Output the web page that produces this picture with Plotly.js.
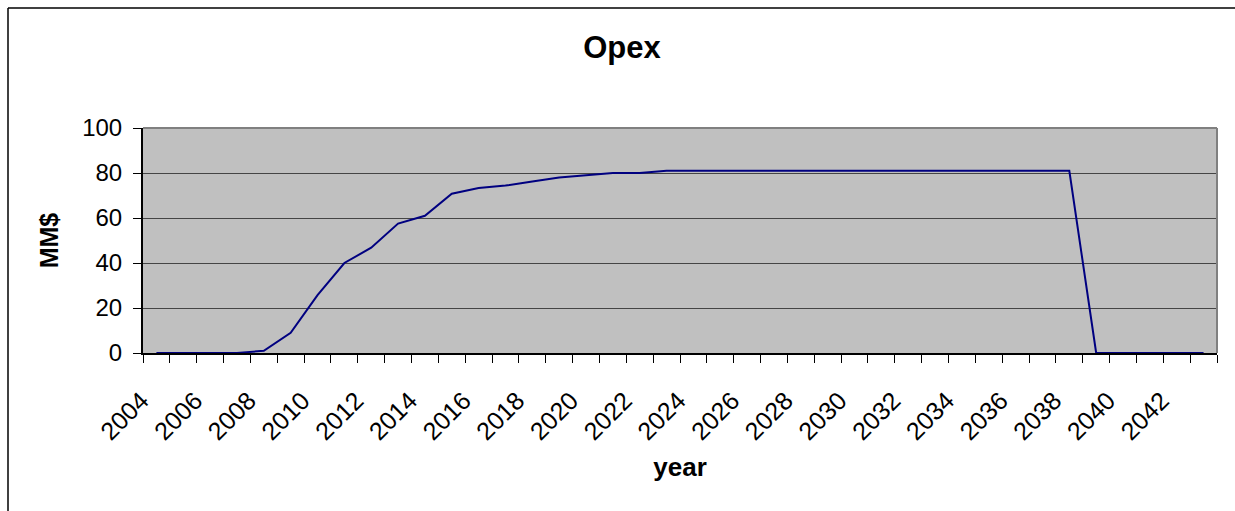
<!DOCTYPE html>
<html>
<head>
<meta charset="utf-8">
<script src="https://cdn.plot.ly/plotly-3.0.1.min.js"></script>
<style>
html,body{margin:0;padding:0;background:#fff;overflow:hidden;}
#chart{width:1235px;height:511px;}
</style>
</head>
<body>
<div id="chart"></div>
<script>
const years = [2004,2005,2006,2007,2008,2009,2010,2011,2012,2013,
               2014,2015,2016,2017,2018,2019,2020,2021,2022,2023,
               2024,2025,2026,2027,2028,2029,2030,2031,2032,2033,
               2034,2035,2036,2037,2038,2039,2040,2041,2042,2043];
const opex = [0,0,0,0,1.0,9.0,25.7,40.0,46.8,57.5,
              61.0,70.8,73.3,74.4,76.2,78.0,79.0,80.0,80.0,81.0,
              81,81,81,81,81,81,81,81,81,81,
              81,81,81,81,81,0,0,0,0,0];
const chartTitle = 'Opex';
const xTitle = 'year';
const yTitle = 'MM$';

const W = 1235, H = 511;
const M = {l:143, r:18, t:128, b:158};
const pw = W - M.l - M.r, ph = H - M.t - M.b;
// outer chart-area frame (top/left edges at 8px, extending past the picture)
const fx0 = (8 - M.l) / pw, fy1 = (H - M.b - 8) / ph;

const font = 'Liberation Sans, Arial, sans-serif';

const trace = {
  x: years, y: opex, type: 'scatter', mode: 'lines',
  line: {color: '#000080', width: 2},
  hoverinfo: 'x+y'
};

const layout = {
  width: W, height: H,
  margin: M,
  paper_bgcolor: '#ffffff',
  plot_bgcolor: '#c0c0c0',
  showlegend: false,
  font: {family: font, color: '#000', size: 24},
  title: {
    text: '<b>' + chartTitle + '</b>',
    font: {family: font, size: 31, color: '#000'},
    x: 622/W, xref: 'container', xanchor: 'center',
    y: 1 - 47/H, yref: 'container', yanchor: 'middle'
  },
  xaxis: {
    type: 'linear',
    range: [2003.5, 2043.5],
    tickmode: 'linear', tick0: 2004, dtick: 2,
    ticks: '', showgrid: false, zeroline: false,
    showline: true, linecolor: '#000', linewidth: 2,
    tickangle: -45,
    tickfont: {family: font, size: 25, color: '#000'},
    ticklabelstandoff: 21,
    ticklabelshift: -15,
    minor: {tick0: 2003.5, dtick: 1, ticks: 'outside', ticklen: 8, tickcolor: '#000', tickwidth: 1, showgrid: false},
    title: {text: '<b>' + xTitle + '</b>', font: {family: font, size: 26, color: '#000'}, standoff: 14},
    fixedrange: true
  },
  yaxis: {
    range: [0, 100],
    tickmode: 'linear', tick0: 0, dtick: 20,
    ticks: 'outside', ticklen: 8, tickcolor: '#000', tickwidth: 1,
    showgrid: true, gridcolor: '#454545', gridwidth: 1,
    zeroline: false,
    showline: true, linecolor: '#000', linewidth: 2,
    tickfont: {family: font, size: 24, color: '#000'},
    ticklabelstandoff: 6,
    title: {text: '<b>' + yTitle + '</b>', font: {family: font, size: 25, color: '#000'}, standoff: 16},
    fixedrange: true
  },
  shapes: [
    // plot-area frame, top and right (grey)
    {type: 'line', xref: 'paper', yref: 'paper', x0: 0, x1: 1, y0: 1, y1: 1, line: {color: '#808080', width: 2}},
    {type: 'line', xref: 'paper', yref: 'paper', x0: 1, x1: 1, y0: 0, y1: 1, line: {color: '#808080', width: 2}},
    // chart-area border
    {type: 'line', xref: 'paper', yref: 'paper', x0: fx0, x1: 1.2, y0: fy1, y1: fy1, line: {color: '#000', width: 1.5}},
    {type: 'line', xref: 'paper', yref: 'paper', x0: fx0, x1: fx0, y0: -1, y1: fy1, line: {color: '#000', width: 1.5}}
  ]
};

Plotly.newPlot('chart', [trace], layout, {displayModeBar: false, staticPlot: true});
</script>
</body>
</html>
